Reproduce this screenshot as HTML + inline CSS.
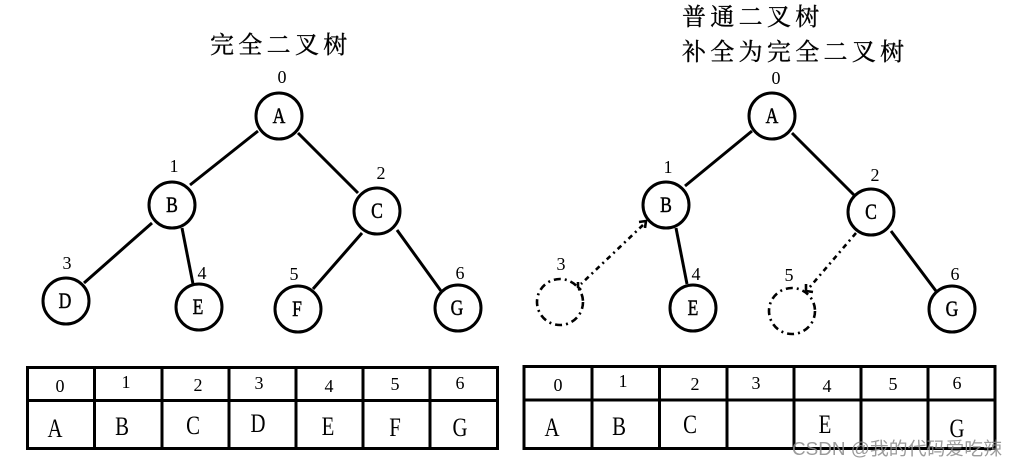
<!DOCTYPE html>
<html>
<head>
<meta charset="utf-8">
<style>
html,body{margin:0;padding:0;background:#fff;}
svg{display:block;}
.t{font-family:"Liberation Serif","Noto Serif CJK SC",serif;fill:#000;}
.cj{font-family:"Liberation Serif","Noto Serif CJK SC",serif;font-size:24px;letter-spacing:4.3px;fill:#000;stroke:#000;stroke-width:0.35px;}
.idx{font-size:18px;text-anchor:middle;}
.nl{font-size:22px;text-anchor:middle;stroke:#000;stroke-width:0.5px;}
.tl{font-size:26px;text-anchor:middle;}
</style>
</head>
<body>
<svg width="1019" height="466" viewBox="0 0 1019 466" xmlns="http://www.w3.org/2000/svg">
<rect width="1019" height="466" fill="#fff"/>

<!-- Titles -->
<text class="cj" x="210" y="53">完全二叉树</text>
<text class="cj" x="682" y="25">普通二叉树</text>
<text class="cj" x="682" y="60">补全为完全二叉树</text>

<!-- LEFT TREE -->
<g stroke="#000" stroke-width="3" fill="none">
  <line x1="258" y1="131" x2="190" y2="185"/>
  <line x1="298" y1="133" x2="358" y2="193"/>
  <line x1="152" y1="223" x2="84" y2="283"/>
  <line x1="182" y1="228" x2="193" y2="284"/>
  <line x1="362" y1="233" x2="313" y2="289"/>
  <line x1="397" y1="230" x2="441" y2="291"/>
  <circle cx="279" cy="116" r="23" fill="#fff"/>
  <circle cx="172" cy="205" r="23" fill="#fff"/>
  <circle cx="377" cy="211" r="23" fill="#fff"/>
  <circle cx="66" cy="301" r="23" fill="#fff"/>
  <circle cx="199" cy="307" r="23" fill="#fff"/>
  <circle cx="298" cy="309" r="23" fill="#fff"/>
  <circle cx="458" cy="308" r="23" fill="#fff"/>
</g>
<g class="t">
  <text class="nl" transform="translate(279,123) scale(0.8,1)">A</text>
  <text class="nl" transform="translate(172,212) scale(0.8,1)">B</text>
  <text class="nl" transform="translate(377,218) scale(0.8,1)">C</text>
  <text class="nl" transform="translate(65,308) scale(0.8,1)">D</text>
  <text class="nl" transform="translate(198,314) scale(0.8,1)">E</text>
  <text class="nl" transform="translate(297,316) scale(0.8,1)">F</text>
  <text class="nl" transform="translate(457,315) scale(0.8,1)">G</text>
  <text class="idx" x="282" y="83">0</text>
  <text class="idx" x="174" y="172">1</text>
  <text class="idx" x="381" y="179">2</text>
  <text class="idx" x="67" y="269">3</text>
  <text class="idx" x="202" y="279">4</text>
  <text class="idx" x="294" y="280">5</text>
  <text class="idx" x="460" y="279">6</text>
</g>

<!-- RIGHT TREE -->
<g stroke="#000" stroke-width="3" fill="none">
  <line x1="752" y1="131" x2="685" y2="186"/>
  <line x1="792" y1="133" x2="854" y2="195"/>
  <line x1="676" y1="228" x2="687" y2="284"/>
  <line x1="891" y1="231" x2="936" y2="291"/>
  <circle cx="772" cy="116" r="23" fill="#fff"/>
  <circle cx="666" cy="205" r="23" fill="#fff"/>
  <circle cx="871" cy="212" r="23" fill="#fff"/>
  <circle cx="693" cy="308" r="23" fill="#fff"/>
  <circle cx="952" cy="309" r="23" fill="#fff"/>
</g>
<g stroke="#000" stroke-width="2.6" fill="none">
  <circle cx="560" cy="302" r="23" stroke-dasharray="7 4 2 4"/>
  <circle cx="792" cy="311" r="23" stroke-dasharray="7 4 2 4"/>
  <line x1="643" y1="225" x2="581" y2="284" stroke-dasharray="5 4 2 4"/>
  <line x1="856" y1="233" x2="809" y2="288" stroke-dasharray="5 4 2 4"/>
  <polyline points="639,222 646,221 645,228"/>
  <polyline points="578,282 578,287 581,290"/>
  <polyline points="806,284 806,291 813,292"/>
</g>
<g class="t">
  <text class="nl" transform="translate(772,123) scale(0.8,1)">A</text>
  <text class="nl" transform="translate(666,212) scale(0.8,1)">B</text>
  <text class="nl" transform="translate(871,219) scale(0.8,1)">C</text>
  <text class="nl" transform="translate(693,315) scale(0.8,1)">E</text>
  <text class="nl" transform="translate(952,316) scale(0.8,1)">G</text>
  <text class="idx" x="776" y="84">0</text>
  <text class="idx" x="668" y="173">1</text>
  <text class="idx" x="875" y="181">2</text>
  <text class="idx" x="561" y="270">3</text>
  <text class="idx" x="696" y="280">4</text>
  <text class="idx" x="789" y="281">5</text>
  <text class="idx" x="955" y="280">6</text>
</g>

<!-- LEFT TABLE -->
<g stroke="#000" stroke-width="3" fill="none">
  <rect x="27.5" y="367.5" width="470" height="81"/>
  <line x1="27.5" y1="400.5" x2="497.5" y2="400.5"/>
  <line x1="94.5" y1="367.5" x2="94.5" y2="448.5"/>
  <line x1="162" y1="367.5" x2="162" y2="448.5"/>
  <line x1="229" y1="367.5" x2="229" y2="448.5"/>
  <line x1="296" y1="367.5" x2="296" y2="448.5"/>
  <line x1="363" y1="367.5" x2="363" y2="448.5"/>
  <line x1="430" y1="367.5" x2="430" y2="448.5"/>
</g>
<g class="t">
  <text class="idx" x="60" y="392">0</text>
  <text class="idx" x="126" y="388">1</text>
  <text class="idx" x="198" y="391">2</text>
  <text class="idx" x="259" y="389">3</text>
  <text class="idx" x="329" y="392">4</text>
  <text class="idx" x="395" y="390">5</text>
  <text class="idx" x="460" y="389">6</text>
  <text class="tl" transform="translate(55,437) scale(0.8,1)">A</text>
  <text class="tl" transform="translate(122,435) scale(0.8,1)">B</text>
  <text class="tl" transform="translate(193,434) scale(0.8,1)">C</text>
  <text class="tl" transform="translate(258,432) scale(0.8,1)">D</text>
  <text class="tl" transform="translate(328,435) scale(0.8,1)">E</text>
  <text class="tl" transform="translate(395,436) scale(0.8,1)">F</text>
  <text class="tl" transform="translate(460,436) scale(0.8,1)">G</text>
</g>

<!-- RIGHT TABLE -->
<g stroke="#000" stroke-width="3" fill="none">
  <rect x="524" y="366.5" width="471" height="82"/>
  <line x1="524" y1="400" x2="995" y2="400"/>
  <line x1="592" y1="366.5" x2="592" y2="448.5"/>
  <line x1="659.5" y1="366.5" x2="659.5" y2="448.5"/>
  <line x1="727" y1="366.5" x2="727" y2="448.5"/>
  <line x1="794" y1="366.5" x2="794" y2="448.5"/>
  <line x1="861" y1="366.5" x2="861" y2="448.5"/>
  <line x1="928" y1="366.5" x2="928" y2="448.5"/>
</g>
<g class="t">
  <text class="idx" x="558" y="391">0</text>
  <text class="idx" x="623" y="387">1</text>
  <text class="idx" x="695" y="390">2</text>
  <text class="idx" x="756" y="389">3</text>
  <text class="idx" x="827" y="392">4</text>
  <text class="idx" x="893" y="390">5</text>
  <text class="idx" x="957" y="389">6</text>
  <text class="tl" transform="translate(552,436) scale(0.8,1)">A</text>
  <text class="tl" transform="translate(619,435) scale(0.8,1)">B</text>
  <text class="tl" transform="translate(690,433) scale(0.8,1)">C</text>
  <text class="tl" transform="translate(825,433) scale(0.8,1)">E</text>
  <text class="tl" transform="translate(957,437) scale(0.8,1)">G</text>
</g>

<!-- Watermark -->
<text x="792" y="455" font-family="'Liberation Sans','Noto Sans CJK SC',sans-serif" font-size="18" fill="#8a8a8a" fill-opacity="0.85" textLength="210" lengthAdjust="spacingAndGlyphs">CSDN @我的代码爱吃辣</text>
</svg>
</body>
</html>
